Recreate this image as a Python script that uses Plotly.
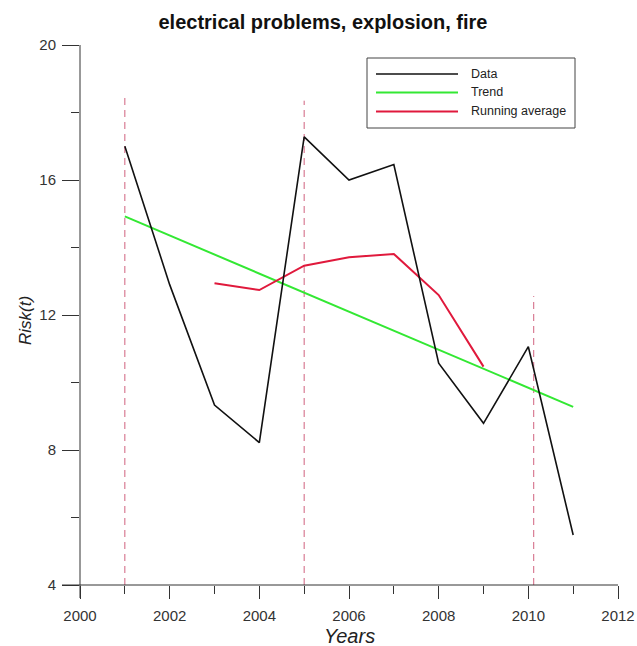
import plotly.graph_objects as go

# ---- data ----
years = [2001, 2002, 2003, 2004, 2005, 2006, 2007, 2008, 2009, 2010, 2011]
risk = [17.0, 12.9, 9.33, 8.22, 17.28, 16.0, 16.46, 10.57, 8.79, 11.06, 5.48]

trend_years = [2001, 2011]
trend_vals = [14.92, 9.28]

avg_years = [2003, 2004, 2005, 2006, 2007, 2008, 2009]
avg_vals = [12.94, 12.74, 13.46, 13.71, 13.81, 12.59, 10.47]

break_years = [2001, 2005, 2010.12]
break_tops = [18.52, 18.35, 12.56]

x_ticks = [2000, 2002, 2004, 2006, 2008, 2010, 2012]
y_ticks = [4, 8, 12, 16, 20]

W, H = 637, 646
L, R, T, B = 80, 19, 45, 61
PW, PH = W - L - R, H - T - B

def px(x):
    return (x - L) / PW

def py(y):
    return (H - B - y) / PH

FONT = "Liberation Sans, Arial, sans-serif"
AX = "#333333"

fig = go.Figure()

# vertical dashed reference lines
for bx, bt in zip(break_years, break_tops):
    fig.add_trace(go.Scatter(x=[bx, bx], y=[4, bt], mode="lines",
                             line=dict(color="rgba(200,70,105,0.85)", width=1, dash="7px,5px"),
                             showlegend=False, hoverinfo="skip"))

fig.add_trace(go.Scatter(x=trend_years, y=trend_vals, mode="lines",
                         line=dict(color="#33e833", width=2), name="Trend", showlegend=False))
fig.add_trace(go.Scatter(x=avg_years, y=avg_vals, mode="lines",
                         line=dict(color="#e0193c", width=2), name="Running average", showlegend=False))
fig.add_trace(go.Scatter(x=years, y=risk, mode="lines",
                         line=dict(color="#111111", width=1.6), name="Data", showlegend=False))

shapes = []
annotations = []

# axis lines (extending beyond the crossing, as in the reference)
shapes.append(dict(type="line", xref="paper", yref="paper", x0=px(62), x1=px(618), y0=py(585), y1=py(585),
                   line=dict(color=AX, width=1)))
shapes.append(dict(type="line", xref="paper", yref="paper", x0=px(80), x1=px(80), y0=py(45), y1=py(598),
                   line=dict(color=AX, width=1)))

# custom legend
shapes.append(dict(type="rect", xref="paper", yref="paper", x0=px(367), x1=px(575), y0=py(58), y1=py(128),
                   line=dict(color="#444444", width=1), fillcolor="white", layer="above"))
legend_items = [("Data", "#111111", 74), ("Trend", "#33e833", 92.5), ("Running average", "#e0193c", 111.5)]
for label, col, yy in legend_items:
    shapes.append(dict(type="line", xref="paper", yref="paper", x0=px(376), x1=px(458), y0=py(yy), y1=py(yy),
                       line=dict(color=col, width=2 if col != "#111111" else 1.6), layer="above"))
    annotations.append(dict(xref="paper", yref="paper", x=px(469), y=py(yy), text=label, showarrow=False,
                            xanchor="left", yanchor="middle", font=dict(family=FONT, size=12.5, color="#222222")))

# axis titles
annotations.append(dict(xref="paper", yref="paper", x=px(25), y=py(321), text="<i>Risk(t)</i>", showarrow=False,
                        textangle=-90, xanchor="center", yanchor="middle",
                        font=dict(family=FONT, size=17, color="#222222")))
annotations.append(dict(xref="paper", yref="paper", x=px(349), y=py(636), text="<i>Years</i>", showarrow=False,
                        xanchor="center", yanchor="middle",
                        font=dict(family=FONT, size=20, color="#222222")))

fig.update_layout(
    width=W, height=H,
    autosize=False,
    margin=dict(l=L, r=R, t=T, b=B, autoexpand=False),
    plot_bgcolor="white", paper_bgcolor="white",
    showlegend=False,
    title=dict(text="<b>electrical problems, explosion, fire</b>", x=323 / W, xanchor="center",
               y=1 - 22 / H, yanchor="middle", font=dict(family=FONT, size=20, color="#111111")),
    shapes=shapes, annotations=annotations,
    xaxis=dict(range=[2000, 2012], tickvals=x_ticks, ticks="outside", ticklen=13, tickwidth=1, tickcolor=AX,
               minor=dict(dtick=1, tick0=2000, ticks="outside", ticklen=8, tickwidth=1, tickcolor=AX, showgrid=False),
               showgrid=False, zeroline=False, showline=False, automargin=False, ticklabelstandoff=4,
               tickfont=dict(family=FONT, size=15, color=AX)),
    yaxis=dict(range=[4, 20], tickvals=y_ticks, ticks="outside", ticklen=17, tickwidth=1, tickcolor=AX,
               minor=dict(dtick=2, tick0=4, ticks="outside", ticklen=8, tickwidth=1, tickcolor=AX, showgrid=False),
               showgrid=False, zeroline=False, showline=False, automargin=False, ticklabelstandoff=3,
               tickfont=dict(family=FONT, size=15, color=AX)),
)

fig.write_html("out.html", config={"displayModeBar": False},
               post_script="document.body.style.margin='0';document.body.style.overflow='hidden';")
